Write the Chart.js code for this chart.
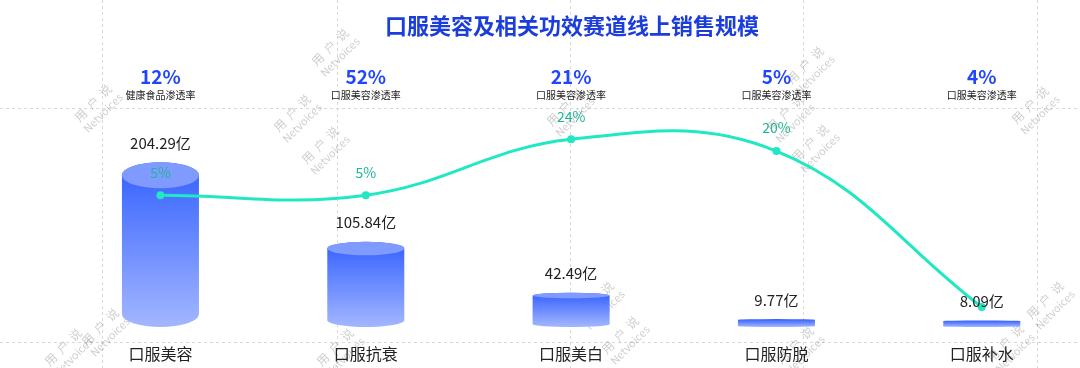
<!DOCTYPE html>
<html>
<head>
<meta charset="utf-8">
<script src="https://cdn.jsdelivr.net/npm/chart.js@4.4.0/dist/chart.umd.min.js"></script>
<style>
  html, body { margin: 0; padding: 0; background: #fff; }
  .graph-container { width: 1080px; height: 368px; position: relative; }
</style>
</head>
<body>
<div class="graph-container">
  <canvas id="myChart"></canvas>
</div>
<script>
// chart data
const categories = ["口服美容", "口服抗衰", "口服美白", "口服防脱", "口服补水"];
const sales = [204.29, 105.84, 42.49, 9.77, 8.09];          // 亿
const growth = [5, 5, 24, 20, -33];                           // line, last point label not shown
const penetration = [12, 52, 21, 5, 4];
const penetrationNames = ["健康食品渗透率", "口服美容渗透率", "口服美容渗透率", "口服美容渗透率", "口服美容渗透率"];
const chartTitle = "口服美容及相关功效赛道线上销售规模";

const FONT = '"Noto Sans CJK SC", "Noto Sans", sans-serif';
const LINE_COLOR = "#1fe8c3";

// background: dashed grid + watermark
const backdrop = {
    id: "backdrop",
    beforeDraw(chart) {
        const ctx = chart.ctx;
        ctx.save();
        ctx.fillStyle = "#fff";
        ctx.fillRect(0, 0, chart.width, chart.height);
        ctx.strokeStyle = "#d9d9d9";
        ctx.lineWidth = 1;
        ctx.setLineDash([3, 3]);
        [102, 337, 570, 803, 1037].forEach(x => {
            ctx.beginPath();
            ctx.moveTo(x + 0.5, 0);
            ctx.lineTo(x + 0.5, chart.height);
            ctx.stroke();
        });
        [108, 342].forEach(y => {
            ctx.beginPath();
            ctx.moveTo(0, y + 0.5);
            ctx.lineTo(chart.width, y + 0.5);
            ctx.stroke();
        });
        ctx.setLineDash([]);
        const marks = [[98, 108], [297, 118], [325, 150], [335, 52], [570, 112], [105, 332], [68, 352],
            [340, 352], [600, 305], [625, 340], [810, 70], [790, 118], [815, 148], [1035, 110],
            [1050, 305], [1010, 348], [800, 350]];
        ctx.fillStyle = "rgba(0,0,0,0.2)";
        ctx.textAlign = "center";
        ctx.textBaseline = "middle";
        marks.forEach(([x, y]) => {
            ctx.save();
            ctx.translate(x, y);
            ctx.rotate(-Math.PI / 4);
            ctx.font = "12px " + FONT;
            ctx.fillText("用  户  说", 0, -7);
            ctx.font = "11px " + FONT;
            ctx.fillText("Netvoices", 0, 7);
            ctx.restore();
        });
        ctx.restore();
    }
};

// draw bars as cylinders
const cylinders = {
    id: "cylinders",
    beforeDatasetDraw(chart, args) {
        if (args.index !== 0) return;
        const ctx = chart.ctx;
        ctx.save();
        args.meta.data.forEach(bar => {
            const { x, y, base, width } = bar.getProps(["x", "y", "base", "width"], true);
            const rx = width / 2;
            const h = base - y;
            const ry = Math.min(13, h * 0.08);
            const topC = y + ry, botC = base - ry;
            const grad = ctx.createLinearGradient(0, y, 0, base);
            grad.addColorStop(0, "#3360ff");
            grad.addColorStop(1, "#a3b7ff");
            ctx.beginPath();
            ctx.moveTo(x - rx, topC);
            ctx.lineTo(x - rx, botC);
            ctx.ellipse(x, botC, rx, ry, 0, Math.PI, 0, true);
            ctx.lineTo(x + rx, topC);
            ctx.ellipse(x, topC, rx, ry, 0, 0, Math.PI, true);
            ctx.closePath();
            ctx.fillStyle = grad;
            ctx.fill();
            if (ry > 1) {
                ctx.beginPath();
                ctx.ellipse(x, topC, rx, ry, 0, 0, Math.PI * 2);
                ctx.fillStyle = "#809bff";
                ctx.fill();
            }
        });
        ctx.restore();
        return false;
    }
};

// texts: values, line labels, top stats, title
const labels = {
    id: "labels",
    afterDatasetsDraw(chart) {
        const ctx = chart.ctx;
        const xs = chart.scales.x;
        ctx.save();
        ctx.textAlign = "center";
        ctx.textBaseline = "middle";

        ctx.font = "15px " + FONT;
        ctx.fillStyle = "#222";
        chart.getDatasetMeta(0).data.forEach((bar, i) => {
            ctx.fillText(sales[i] + "亿", bar.x, bar.y - 19);
        });

        ctx.font = "14px " + FONT;
        ctx.fillStyle = "#1fb597";
        chart.getDatasetMeta(1).data.forEach((pt, i) => {
            if (growth[i] < 0) return;
            ctx.fillText(growth[i] + "%", pt.x, pt.y - 23);
        });

        penetration.forEach((p, i) => {
            const x = xs.getPixelForValue(i);
            ctx.font = "bold 19px " + FONT;
            ctx.fillStyle = "#2146ff";
            ctx.fillText(p + "%", x, 77);
            ctx.font = "10px " + FONT;
            ctx.fillStyle = "#222";
            ctx.fillText(penetrationNames[i], x, 95);
        });

        ctx.font = "bold 22px " + FONT;
        ctx.fillStyle = "#1b3ddc";
        ctx.fillText(chartTitle, 572, 26);
        ctx.restore();
    }
};

new Chart(document.getElementById("myChart").getContext("2d"), {
    type: "bar",
    data: {
        datasets: [
            {
                type: "bar",
                label: "销售规模",
                data: sales.map((v, i) => ({ x: i, y: v })),
                backgroundColor: "#5a7bff",
                barThickness: 77,
                yAxisID: "y",
                order: 2
            },
            {
                type: "line",
                label: "增速",
                data: growth.map((v, i) => ({ x: i, y: v })),
                borderColor: LINE_COLOR,
                backgroundColor: LINE_COLOR,
                borderWidth: 3,
                tension: 0.4,
                pointRadius: 4,
                pointBorderWidth: 0,
                pointBackgroundColor: LINE_COLOR,
                yAxisID: "y2",
                order: 1,
                clip: false
            }
        ]
    },
    options: {
        responsive: true,
        maintainAspectRatio: false,
        animation: false,
        layout: { padding: 0 },
        plugins: {
            legend: { display: false },
            tooltip: { enabled: false }
        },
        scales: {
            x: {
                type: "linear",
                min: -0.762,
                max: 4.459,
                offset: false,
                grid: { display: false, drawTicks: false },
                border: { display: false },
                afterBuildTicks: s => { s.ticks = categories.map((c, i) => ({ value: i })); },
                afterFit: s => { s.height = 41; },
                ticks: {
                    padding: 17,
                    color: "#222",
                    font: { size: 16, family: FONT },
                    callback: v => categories[v]
                }
            },
            y: { display: false, min: 0, max: 400.5 },
            y2: { display: false, min: -39.8, max: 70.0 }
        }
    },
    plugins: [backdrop, cylinders, labels]
});
</script>
</body>
</html>
